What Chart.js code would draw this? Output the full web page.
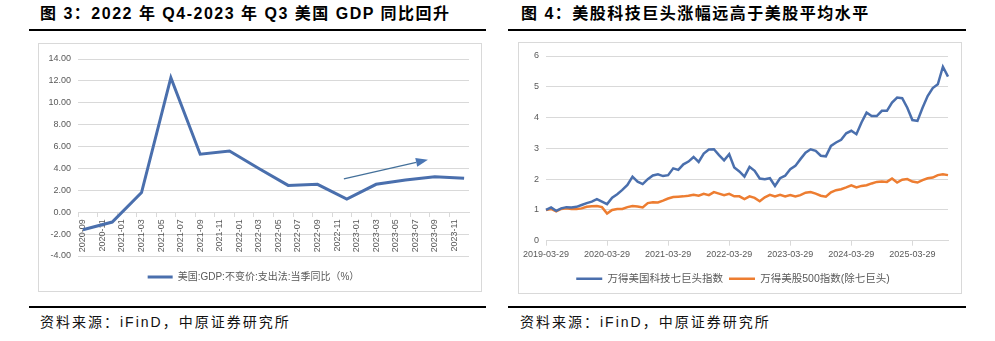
<!DOCTYPE html>
<html>
<head>
<meta charset="utf-8">
<script src="https://cdn.jsdelivr.net/npm/chart.js@4.4.0/dist/chart.umd.min.js"></script>
<style>
  body { margin:0; width:995px; height:341px; background:#fff; position:relative; overflow:hidden;
         font-family:"Liberation Sans","Noto Sans CJK SC",sans-serif; }
  .title { position:absolute; top:4px; font-size:16px; font-weight:bold; line-height:20px; letter-spacing:1.5px; white-space:nowrap; color:#000; }
  .rule { position:absolute; height:2px; background:#000; }
  .box { position:absolute; border:1px solid #d9d9d9; box-sizing:border-box; }
  .source { position:absolute; top:313px; font-size:14px; line-height:18px; letter-spacing:2px; white-space:nowrap; color:#111; }
  canvas { position:absolute; }
</style>
</head>
<body>
<div class="title" style="left:40px">图 3：2022 年 Q4-2023 年 Q3 美国 GDP 同比回升</div>
<div class="title" style="left:521px">图 4：美股科技巨头涨幅远高于美股平均水平</div>
<div class="rule" style="left:29px;width:457px;top:29px"></div>
<div class="rule" style="left:508px;width:458px;top:29px"></div>

<div class="box" style="left:38px;top:43px;width:444px;height:249px"></div>
<div class="box" style="left:518px;top:42px;width:444px;height:252px"></div>
<canvas id="gdpChart" width="444" height="249" style="left:38px;top:43px"></canvas>
<canvas id="techChart" width="444" height="252" style="left:518px;top:42px"></canvas>

<div class="rule" style="left:29px;width:457px;top:306px"></div>
<div class="rule" style="left:508px;width:458px;top:306px"></div>
<div class="source" style="left:40px">资料来源：iFinD，中原证券研究所</div>
<div class="source" style="left:520px">资料来源：iFinD，中原证券研究所</div>

<script>
// 图3：美国GDP当季同比（季度数据）
const gdpMonths = ['2020-09', '2020-12', '2021-03', '2021-06', '2021-09', '2021-12', '2022-03',
                   '2022-06', '2022-09', '2022-12', '2023-03', '2023-06', '2023-09', '2023-12'];
const gdpValues = [-1.6, -0.9, 1.8, 12.3, 5.3, 5.6, 4.0, 2.45, 2.55, 1.2, 2.55, 2.95, 3.25, 3.1];
const gdpLabel = '美国:GDP:不变价:支出法:当季同比（%）';
// trend arrow, in (category index, value)
const trendArrow = { from: [26.7, 3.05], to: [35.3, 4.8] };

// 图4：七巨头 vs 标普500（除七巨头），月度
const techValues = [1.00, 1.08, 0.97, 1.05, 1.09, 1.08, 1.10, 1.16, 1.22, 1.27, 1.35, 1.27, 1.19, 1.40, 1.51, 1.65,
                    1.81, 2.08, 1.92, 1.84, 2.00, 2.12, 2.16, 2.10, 2.13, 2.35, 2.30, 2.48, 2.57, 2.72, 2.56, 2.83,
                    2.96, 2.97, 2.78, 2.61, 2.81, 2.38, 2.25, 2.08, 2.40, 2.27, 2.02, 2.00, 2.03, 1.78, 2.03, 2.11,
                    2.32, 2.43, 2.65, 2.86, 2.97, 2.92, 2.76, 2.74, 3.08, 3.19, 3.28, 3.49, 3.57, 3.46, 3.84, 4.16,
                    4.05, 4.05, 4.22, 4.22, 4.49, 4.65, 4.63, 4.32, 3.92, 3.89, 4.32, 4.70, 4.96, 5.08, 5.65, 5.33];
const restValues = [1.00, 1.03, 0.95, 1.03, 1.05, 1.03, 1.03, 1.05, 1.10, 1.12, 1.13, 1.09, 0.88, 1.00, 1.03, 1.03,
                    1.09, 1.13, 1.11, 1.08, 1.22, 1.25, 1.24, 1.30, 1.37, 1.42, 1.43, 1.44, 1.46, 1.49, 1.46, 1.52,
                    1.48, 1.58, 1.53, 1.48, 1.52, 1.44, 1.44, 1.35, 1.44, 1.39, 1.28, 1.41, 1.49, 1.44, 1.49, 1.44,
                    1.48, 1.44, 1.48, 1.56, 1.58, 1.53, 1.46, 1.43, 1.57, 1.64, 1.67, 1.73, 1.80, 1.73, 1.78, 1.80,
                    1.86, 1.91, 1.92, 1.91, 2.02, 1.89, 1.98, 2.00, 1.92, 1.89, 1.97, 2.03, 2.05, 2.13, 2.16, 2.13];
const techLabels = ['万得美国科技七巨头指数', '万得美股500指数(除七巨头)'];

function monthLabels(year, month, count, day) {
  const out = [];
  for (let i = 0; i < count; i++) {
    const m = month - 1 + i;
    const s = (year + Math.floor(m / 12)) + '-' + String(m % 12 + 1).padStart(2, '0');
    out.push(day ? s + '-' + day : s);
  }
  return out;
}
const gdpAxis = monthLabels(2020, 9, 40);
const techAxis = monthLabels(2019, 3, techValues.length, '29');

Chart.defaults.font.family = '"Liberation Sans", "Noto Sans CJK SC", sans-serif';
Chart.defaults.color = '#595959';
Chart.defaults.animation = false;

const gridGray = '#d9d9d9';
const blue = '#4a6fad';
const orange = '#ed7d31';

const arrowPlugin = {
  id: 'trendArrow',
  afterDatasetsDraw(chart) {
    const { x, y } = chart.scales;
    const x1 = x.getPixelForValue(trendArrow.from[0]), y1 = y.getPixelForValue(trendArrow.from[1]);
    const x2 = x.getPixelForValue(trendArrow.to[0]), y2 = y.getPixelForValue(trendArrow.to[1]);
    const ang = Math.atan2(y2 - y1, x2 - x1);
    const head = 12, half = 4.5;
    const bx = x2 - head * Math.cos(ang), by = y2 - head * Math.sin(ang);
    const ctx = chart.ctx;
    ctx.save();
    ctx.strokeStyle = '#44709a';
    ctx.lineWidth = 1.3;
    ctx.beginPath();
    ctx.moveTo(x1, y1);
    ctx.lineTo(bx, by);
    ctx.stroke();
    ctx.fillStyle = '#4a76b4';
    ctx.beginPath();
    ctx.moveTo(x2, y2);
    ctx.lineTo(bx + half * Math.sin(ang), by - half * Math.cos(ang));
    ctx.lineTo(bx - half * Math.sin(ang), by + half * Math.cos(ang));
    ctx.closePath();
    ctx.fill();
    ctx.restore();
  }
};

new Chart(document.getElementById('gdpChart'), {
  type: 'line',
  data: {
    labels: gdpAxis,
    datasets: [{
      label: gdpLabel,
      data: gdpMonths.map((m, i) => ({ x: m, y: gdpValues[i] })),
      borderColor: blue,
      backgroundColor: blue,
      borderWidth: 3,
      pointRadius: 0,
      tension: 0
    }]
  },
  options: {
    responsive: false,
    layout: { padding: { left: 0, right: 13, top: 16, bottom: 0 } },
    plugins: {
      tooltip: { enabled: false },
      legend: {
        position: 'bottom',
        labels: {
          usePointStyle: true, pointStyle: 'line', pointStyleWidth: 25,
          font: { size: 10 }, color: '#595959', padding: 16
        }
      }
    },
    scales: {
      x: {
        position: { y: 0 },
        offset: true,
        grid: {
          offset: true, drawOnChartArea: false, drawTicks: true, tickLength: 4,
          color: c => c.index % 2 === 0 ? gridGray : 'rgba(0,0,0,0)'
        },
        border: { color: gridGray },
        ticks: {
          autoSkip: false, minRotation: 90, maxRotation: 90, padding: 3,
          font: { size: 9 }, color: '#595959',
          callback: (v, i) => i % 2 === 0 ? gdpAxis[i] : ''
        }
      },
      y: {
        min: -4, max: 14,
        afterFit: s => { s.width = 40; },
        grid: { color: gridGray, drawTicks: false },
        border: { display: false },
        ticks: { stepSize: 2, padding: 7, font: { size: 9 }, color: '#595959', callback: v => v.toFixed(2) }
      }
    }
  },
  plugins: [arrowPlugin]
});

new Chart(document.getElementById('techChart'), {
  type: 'line',
  data: {
    labels: techAxis,
    datasets: [
      { label: techLabels[0], data: techValues, borderColor: blue, backgroundColor: blue,
        borderWidth: 2.5, pointRadius: 0, tension: 0 },
      { label: techLabels[1], data: restValues, borderColor: orange, backgroundColor: orange,
        borderWidth: 2.5, pointRadius: 0, tension: 0 }
    ]
  },
  options: {
    responsive: false,
    layout: { padding: { left: 0, right: 14, top: 14, bottom: 0 } },
    plugins: {
      tooltip: { enabled: false },
      legend: {
        position: 'bottom',
        labels: {
          usePointStyle: true, pointStyle: 'line', pointStyleWidth: 26,
          font: { size: 10.5 }, color: '#595959', padding: 6
        }
      }
    },
    scales: {
      x: {
        offset: false,
        afterFit: s => { s.height += 5; },
        grid: {
          drawOnChartArea: false, drawTicks: true, tickLength: 5,
          color: c => c.index % 12 === 0 ? gridGray : 'rgba(0,0,0,0)'
        },
        border: { color: gridGray },
        ticks: {
          autoSkip: false, maxRotation: 0, minRotation: 0, padding: 3,
          font: { size: 9 }, color: '#595959',
          callback: (v, i) => i % 12 === 0 ? techAxis[i] : ''
        }
      },
      y: {
        min: 0, max: 6,
        afterFit: s => { s.width = 28; },
        grid: { color: gridGray, drawTicks: false },
        border: { display: false },
        ticks: { stepSize: 1, padding: 7, font: { size: 9 }, color: '#595959' }
      }
    }
  }
});
</script>
</body>
</html>
